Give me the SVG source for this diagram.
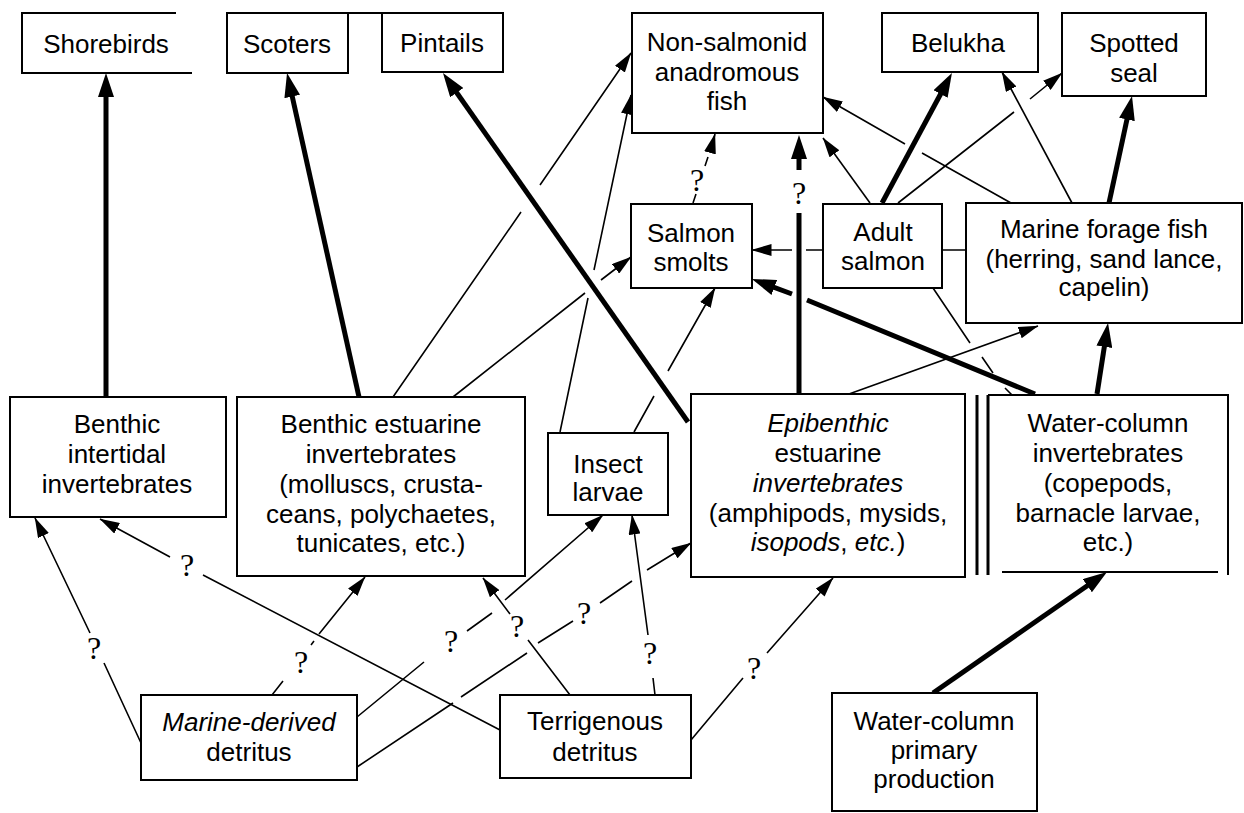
<svg xmlns="http://www.w3.org/2000/svg" width="1244" height="813" viewBox="0 0 1244 813">
<style>
.box{fill:#fff;stroke:#000;stroke-width:2}
.edge{fill:none;stroke:#000;stroke-width:2}
text{font-family:"Liberation Sans",Arial,sans-serif;font-size:26px;fill:#000;text-anchor:middle}
.q{font-family:"Liberation Serif","Times New Roman",serif;font-size:32px}
.it{font-style:italic}
.thin{fill:none;stroke:#000;stroke-width:1.6;marker-end:url(#ah)}
.plain{fill:none;stroke:#000;stroke-width:1.6}
.thick{fill:none;stroke:#000;stroke-width:5;marker-end:url(#ahb)}
</style>
<defs>
<marker id="ah" markerUnits="userSpaceOnUse" markerWidth="20" markerHeight="12" viewBox="0 0 20 12" refX="19.5" refY="6" orient="auto"><path d="M0,0 L20,6 L0,12 z" fill="#000"/></marker>
<marker id="ahb" markerUnits="userSpaceOnUse" markerWidth="24" markerHeight="16" viewBox="0 0 24 16" refX="14" refY="8" orient="auto"><path d="M0,0 L24,8 L0,16 z" fill="#000"/></marker>
</defs>
<rect width="1244" height="813" fill="#fff"/>
<g id="connectors">
<path class="thick" d="M106,397 L106,83"/>
<path class="thick" d="M359,397 L289.2,82.8"/>
<path class="thick" d="M688,422 L448.7,81.2"/>
<path class="thick" d="M799,394 L799,213 M799,170 L799,145"/>
<path class="thick" d="M882,203 L947.2,81.7"/>
<path class="thick" d="M1109,203 L1129.9,105.8"/>
<path class="thick" d="M1035,394 L807,300 M792,294 L761.2,282.5"/>
<path class="thick" d="M1097,394 L1106.5,332.9"/>
<path class="thick" d="M933,693 L1098.8,577.7"/>
<path class="thin" d="M393,397 L521,212 M540,185 L631,53"/>
<path class="thin" d="M453,397 L585,293 M601,280 L631,257"/>
<path class="thin" d="M560,432 L588,298 M594,270 L631,95"/>
<path class="thin" d="M634,432 L654,396 M668,371 L715,288"/>
<path class="thin" d="M693,203 L696,194 M705,166 L708,157 M711,149 L715,134"/>
<path class="thin" d="M870,203 L823,138"/>
<path class="thin" d="M1011,203 L922,153 M905,144 L823,97"/>
<path class="thin" d="M898,203 L1014,112 M1030,99 L1062,73"/>
<path class="thin" d="M1072,203 L1002,72"/>
<path class="thin" d="M966,250 L806,250 M792,250 L752,250"/>
<path class="plain" d="M933,288 L970,343 M982,357 L993,373 M1005,388 L1012,395"/>
<path class="thin" d="M849,394 L1038,326"/>
<path class="thin" d="M141,743 L104,663 M90,633 L35,518"/>
<path class="thin" d="M500,730 L203,575 M170,557 L100,519"/>
<path class="thin" d="M272,695 L283,681 M311,645 L314,641 M319,634 L365,577"/>
<path class="thin" d="M357,717 L424,662 M467,631 L492,613 M505,600 L603,515"/>
<path class="thin" d="M570,695 L528,640 M510,614 L483,578"/>
<path class="thin" d="M655,695 L653,678 M648,635 L632,515"/>
<path class="thin" d="M357,767 L453,703 M461,697 L527,653 M538,643 L573,621 M600,603 L632,581 M647,570 L691,543"/>
<path class="thin" d="M691,740 L743,678 M767,653 L833,578"/>
<text class="q" x="94" y="659">?</text>
<text class="q" x="187" y="576">?</text>
<text class="q" x="301" y="673">?</text>
<text class="q" x="451" y="652">?</text>
<text class="q" x="517" y="637">?</text>
<text class="q" x="650" y="664">?</text>
<text class="q" x="584" y="624">?</text>
<text class="q" x="754" y="679">?</text>
<text class="q" x="697" y="191">?</text>
<text class="q" x="799" y="204">?</text>
</g>
<g id="shorebirds"><path class="edge" d="M176,13 H22 V73 H192"/><text x="106" y="53">Shorebirds</text></g>
<g id="scoters"><rect class="box" x="227" y="13" width="121" height="60"/><path class="edge" d="M348,13 H382"/><text x="287" y="53">Scoters</text></g>
<g id="pintails"><rect class="box" x="382" y="13" width="121" height="59"/><text x="442" y="52">Pintails</text></g>
<g id="non-salmonid"><rect class="box" x="632" y="13" width="191" height="120"/><text x="727" y="51">Non-salmonid</text><text x="727" y="81">anadromous</text><text x="727" y="110">fish</text></g>
<g id="belukha"><rect class="box" x="882" y="13" width="156" height="59"/><text x="958" y="52">Belukha</text></g>
<g id="spotted-seal"><rect class="box" x="1062" y="13" width="144" height="83"/><text x="1134" y="52">Spotted</text><text x="1134" y="82">seal</text></g>
<g id="salmon-smolts"><rect class="box" x="631" y="204" width="121" height="84"/><text x="691" y="242">Salmon</text><text x="691" y="271">smolts</text></g>
<g id="adult-salmon"><rect class="box" x="823" y="204" width="119" height="84"/><text x="883" y="241">Adult</text><text x="883" y="270">salmon</text></g>
<g id="marine-forage-fish"><rect class="box" x="966" y="203" width="276" height="120"/><text x="1104" y="238">Marine forage fish</text><text x="1104" y="268">(herring, sand lance,</text><text x="1104" y="296">capelin)</text></g>
<g id="benthic-intertidal"><rect class="box" x="10" y="397" width="216" height="120"/><text x="117" y="433">Benthic</text><text x="117" y="463">intertidal</text><text x="117" y="493">invertebrates</text></g>
<g id="benthic-estuarine"><rect class="box" x="237" y="397" width="288" height="179"/><text x="381" y="433">Benthic estuarine</text><text x="381" y="463">invertebrates</text><text x="381" y="493">(molluscs, crusta-</text><text x="381" y="523">ceans, polychaetes,</text><text x="381" y="552">tunicates, etc.)</text></g>
<g id="insect-larvae"><rect class="box" x="548" y="433" width="120" height="82"/><text x="608" y="473">Insect</text><text x="608" y="501">larvae</text></g>
<g id="epibenthic"><rect class="box" x="691" y="394" width="274" height="183"/><text class="it" x="828" y="432">Epibenthic</text><text x="828" y="462">estuarine</text><text class="it" x="828" y="492">invertebrates</text><text x="828" y="522">(amphipods, mysids,</text><text x="828" y="551"><tspan font-style="italic">isopods</tspan>, <tspan font-style="italic">etc.</tspan>)</text></g>
<g id="water-column-invertebrates"><rect x="988" y="395" width="240" height="178" fill="#fff"/><path class="edge" d="M988,395 H1228 V575 M1002,572 H1218"/><path fill="none" stroke="#000" stroke-width="3" d="M977,395 V575 M988,395 V575"/><text x="1108" y="432">Water-column</text><text x="1108" y="462">invertebrates</text><text x="1108" y="492">(copepods,</text><text x="1108" y="522">barnacle  larvae,</text><text x="1108" y="551">etc.)</text></g>
<g id="marine-derived-detritus"><rect class="box" x="141" y="695" width="216" height="85"/><text class="it" x="249" y="731">Marine-derived</text><text x="249" y="761">detritus</text></g>
<g id="terrigenous-detritus"><rect class="box" x="500" y="695" width="191" height="83"/><text x="595" y="730">Terrigenous</text><text x="595" y="761">detritus</text></g>
<g id="water-column-primary-production"><rect class="box" x="832" y="693" width="205" height="118"/><text x="934" y="730">Water-column</text><text x="934" y="759">primary</text><text x="934" y="788">production</text></g>
</svg>
